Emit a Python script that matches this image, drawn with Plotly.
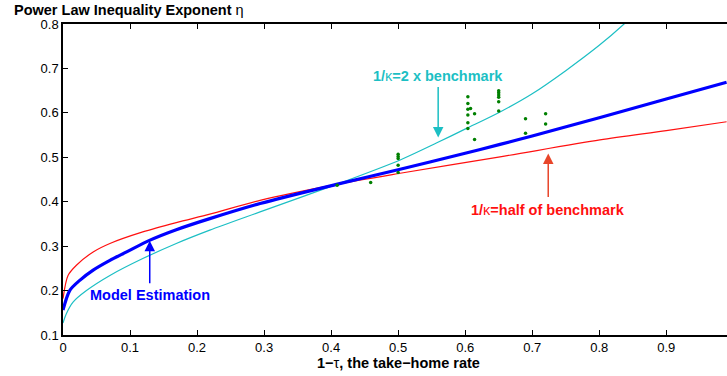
import plotly.graph_objects as go

# Model estimation (blue thick)
x_model = [0, 0.01, 0.025, 0.045, 0.07, 0.095, 0.129, 0.169, 0.219, 0.294, 0.408, 0.503, 0.6, 0.652, 0.7, 0.8, 0.9, 0.99]
y_model = [0.156, 0.200, 0.223, 0.246, 0.268, 0.287, 0.313, 0.337, 0.362, 0.396, 0.439, 0.473, 0.509, 0.529, 0.548, 0.589, 0.631, 0.669]

# 1/kappa = half of benchmark (red)
x_half = [0, 0.0075, 0.02, 0.045, 0.07, 0.119, 0.169, 0.219, 0.294, 0.408, 0.503, 0.652, 0.801, 0.9, 0.99]
y_half = [0.182, 0.234, 0.257, 0.287, 0.306, 0.332, 0.353, 0.372, 0.403, 0.439, 0.464, 0.501, 0.539, 0.560, 0.580]

# 1/kappa = 2 x benchmark (cyan)
x_double = [0, 0.005, 0.015, 0.035, 0.07, 0.119, 0.169, 0.219, 0.294, 0.408, 0.503, 0.557, 0.602, 0.652, 0.7, 0.75, 0.8, 0.837, 0.87]
y_double = [0.127, 0.148, 0.174, 0.200, 0.234, 0.272, 0.306, 0.336, 0.377, 0.439, 0.494, 0.532, 0.565, 0.602, 0.643, 0.695, 0.752, 0.800, 0.848]

# Observed data (green dots)
x_obs = [0.409, 0.459, 0.5, 0.5, 0.5, 0.5, 0.5,
         0.604, 0.604, 0.604, 0.604, 0.604, 0.604, 0.608, 0.614, 0.614,
         0.65, 0.65, 0.65, 0.65, 0.65, 0.65,
         0.69, 0.69, 0.72, 0.72]
y_obs = [0.437, 0.443, 0.507, 0.502, 0.497, 0.482, 0.466,
         0.636, 0.621, 0.608, 0.595, 0.578, 0.565, 0.610, 0.598, 0.540,
         0.650, 0.645, 0.640, 0.635, 0.625, 0.604,
         0.587, 0.554, 0.598, 0.575]

x_ticks = [0, 0.1, 0.2, 0.3, 0.4, 0.5, 0.6, 0.7, 0.8, 0.9]
y_ticks = [0.1, 0.2, 0.3, 0.4, 0.5, 0.6, 0.7, 0.8]

CYAN = "#1cbfc4"
RED = "#ff1010"
BLUE = "#0000ff"
GREEN = "#008000"
FONT = "Liberation Sans, Arial, Helvetica, sans-serif"

fig = go.Figure()
fig.add_trace(go.Scatter(x=x_half, y=y_half, mode="lines",
                         line=dict(color=RED, width=1.2, shape="spline", smoothing=0.8)))
fig.add_trace(go.Scatter(x=x_double, y=y_double, mode="lines",
                         line=dict(color=CYAN, width=1.2, shape="spline", smoothing=0.8)))
fig.add_trace(go.Scatter(x=x_model, y=y_model, mode="lines",
                         line=dict(color=BLUE, width=3.2, shape="spline", smoothing=0.8)))
fig.add_trace(go.Scatter(x=x_obs, y=y_obs, mode="markers",
                         marker=dict(color=GREEN, size=3.5)))

annotations = [
    # arrows
    dict(x=0.5597, y=0.5446, xref="x", yref="y", text="", showarrow=True,
         ax=0, ay=-52, arrowcolor=CYAN, arrowwidth=1.5, arrowhead=2, arrowsize=1.4),
    dict(x=0.7239, y=0.5086, xref="x", yref="y", text="", showarrow=True,
         ax=0, ay=45, arrowcolor="#e8452a", arrowwidth=1.5, arrowhead=2, arrowsize=1.4),
    dict(x=0.1294, y=0.312, xref="x", yref="y", text="", showarrow=True,
         ax=0, ay=44, arrowcolor=BLUE, arrowwidth=1.5, arrowhead=2, arrowsize=1.4),
    # labels
    dict(x=0.5594, y=0.6827, xref="x", yref="y", showarrow=False,
         text="<b>1/</b>κ<b>=2 x benchmark</b>", font=dict(color=CYAN, size=14.5, family=FONT)),
    dict(x=0.7234, y=0.3824, xref="x", yref="y", showarrow=False,
         text="<b>1/</b>κ<b>=half of benchmark</b>", font=dict(color=RED, size=14.5, family=FONT)),
    dict(x=0.1294, y=0.1894, xref="x", yref="y", showarrow=False,
         text="<b>Model Estimation</b>", font=dict(color=BLUE, size=14.5, family=FONT)),
    # axis titles
    dict(x=0.5, y=-0.09, xref="x", yref="paper", showarrow=False, yanchor="middle",
         text="<b>1−</b>τ<b>, the take−home rate</b>", font=dict(color="black", size=14.5, family=FONT)),
    dict(x=-0.0768, y=1.046, xref="paper", yref="paper", showarrow=False,
         xanchor="left", yanchor="middle",
         text="<b>Power Law Inequality Exponent</b> η", font=dict(color="black", size=14.5, family=FONT)),
]

fig.update_layout(
    width=727, height=376,
    margin=dict(l=63, r=0, t=24, b=41),
    paper_bgcolor="white", plot_bgcolor="white",
    showlegend=False,
    font=dict(family=FONT, size=13, color="black"),
    annotations=annotations,
)
fig.update_xaxes(range=[0, 0.9906], tickvals=x_ticks, ticktext=[f"{v:g}" for v in x_ticks],
                 ticks="inside", ticklen=5, tickwidth=1, tickcolor="black",
                 showline=True, linecolor="black", linewidth=1.5, mirror="ticks",
                 showgrid=False, zeroline=False, tickfont=dict(size=13))
fig.update_yaxes(range=[0.1, 0.8], tickvals=y_ticks, ticktext=[f"{v:g}" for v in y_ticks],
                 ticks="inside", ticklen=5, tickwidth=1, tickcolor="black",
                 showline=True, linecolor="black", linewidth=1.5,
                 showgrid=False, zeroline=False, tickfont=dict(size=13))

fig.write_html("out.html", config={"displayModeBar": False},
               post_script="document.body.style.margin='0px';document.body.style.overflow='hidden';")
